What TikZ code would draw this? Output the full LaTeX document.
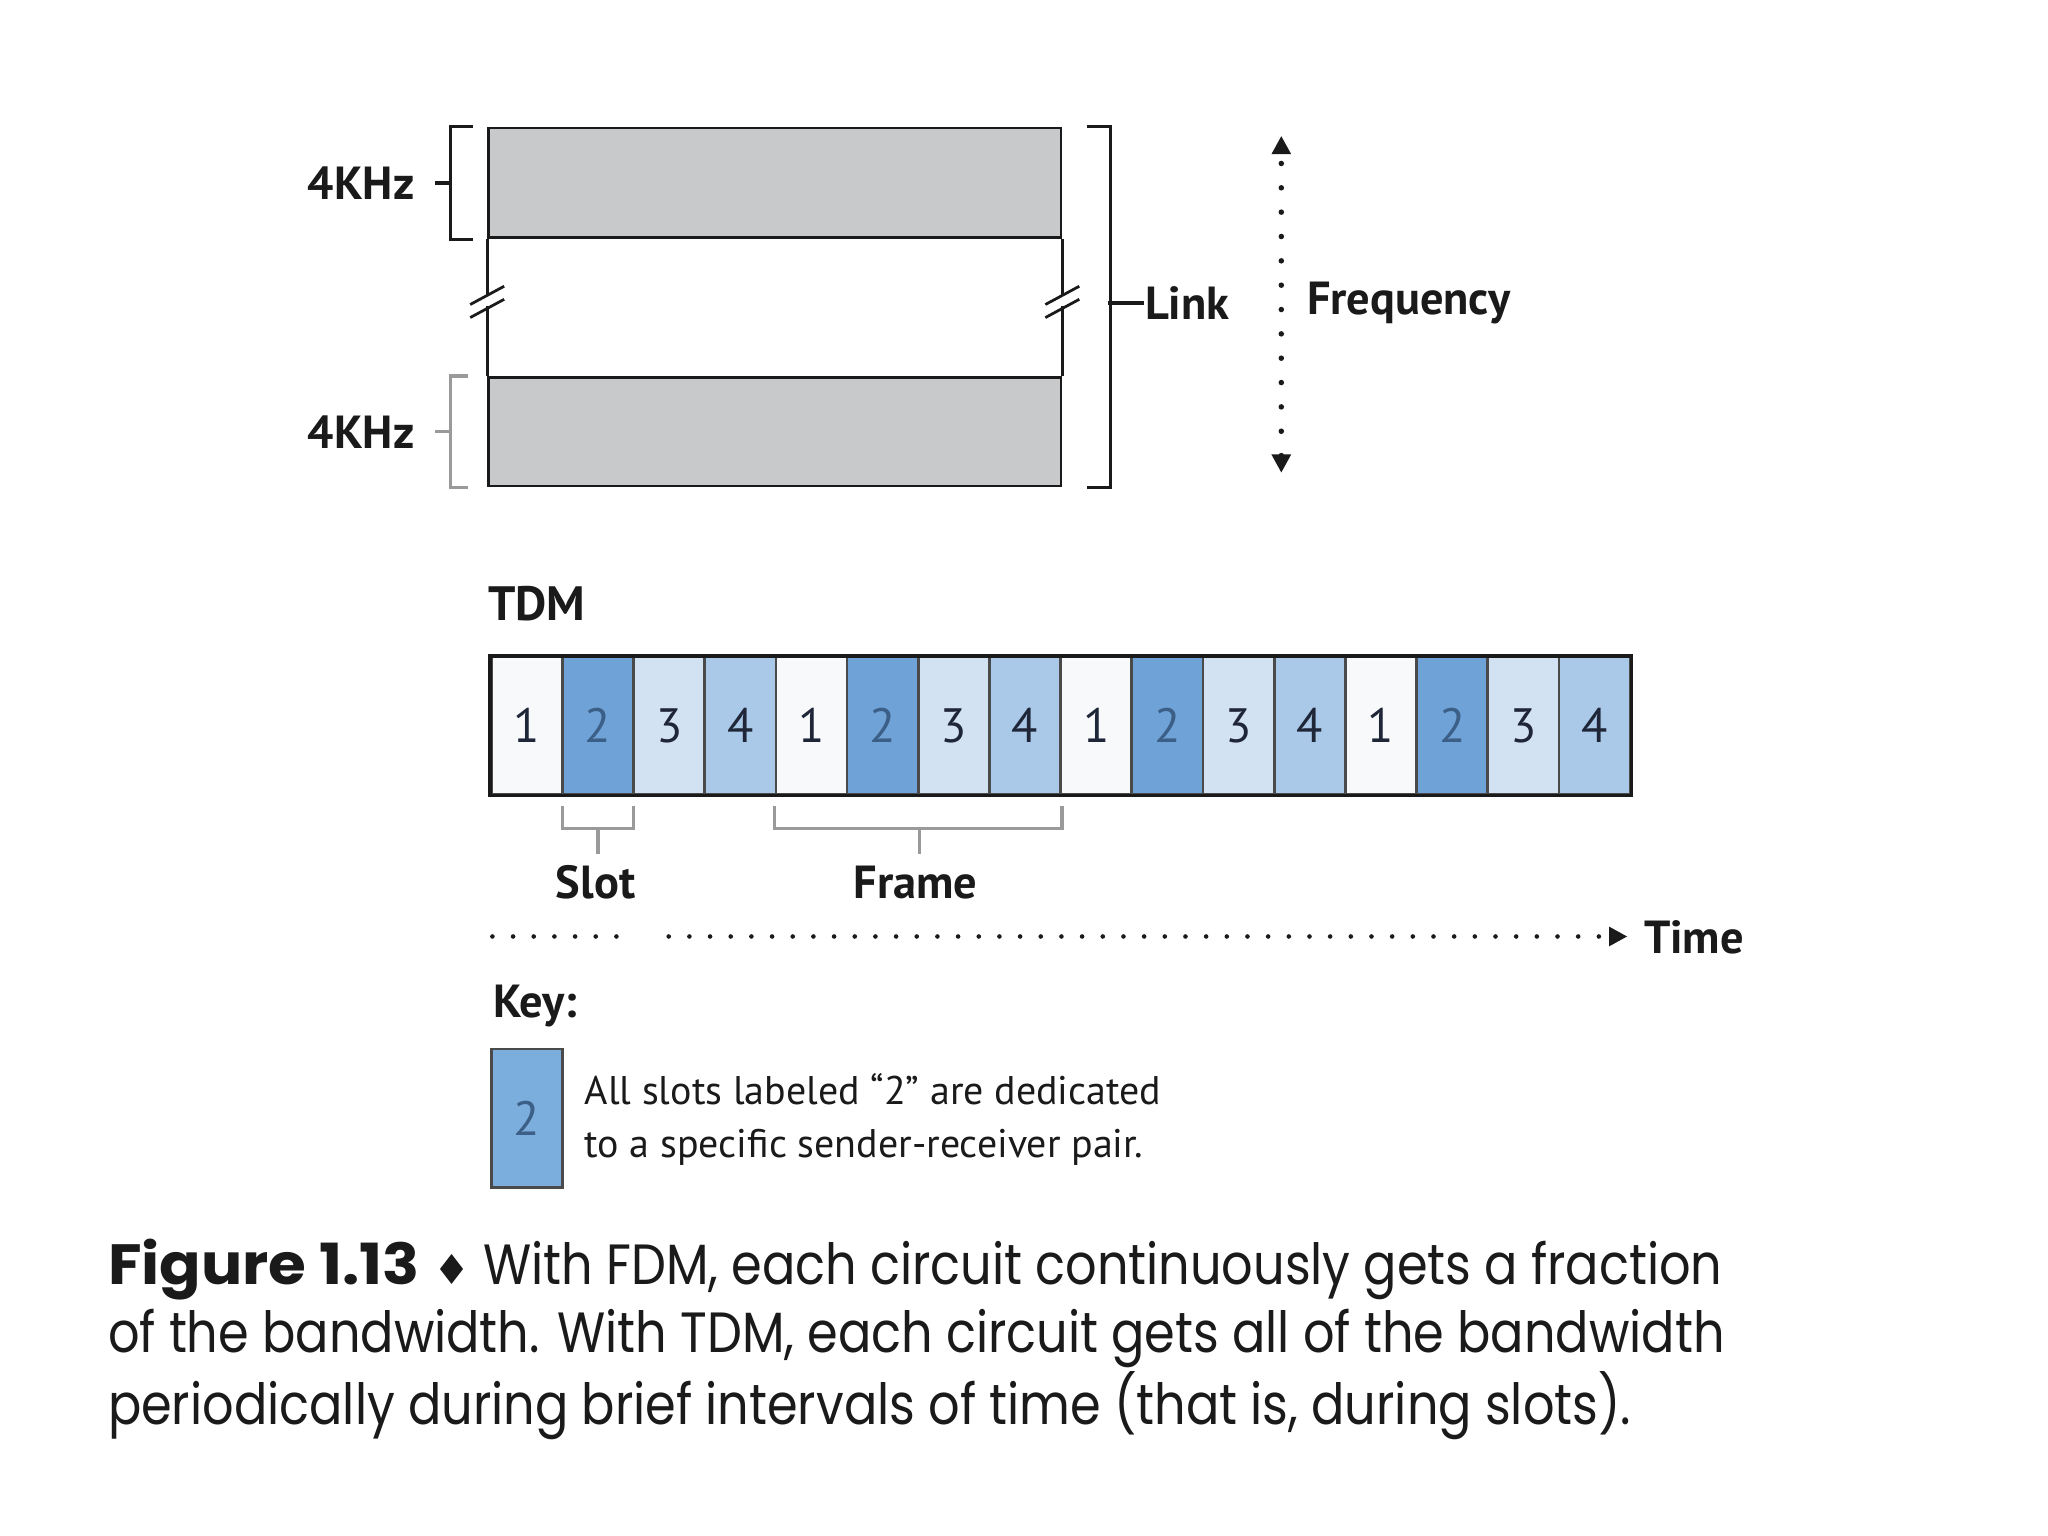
\documentclass[tikz,border=0pt]{standalone}
\usepackage{fontspec}
\setsansfont{PT Sans}
\newfontfamily\capfont[FakeStretch=0.87]{Poppins}
\newfontfamily\capbold[FakeStretch=1.08]{Poppins}
\newfontfamily\symfont{DejaVu Sans}
\usetikzlibrary{arrows.meta, positioning, calc}

\definecolor{ink}{HTML}{1A1A1A}
\definecolor{frame}{HTML}{4A4A4A}
\definecolor{bandgray}{HTML}{C8C9CB}
\definecolor{softgray}{HTML}{9A9A9A}
\definecolor{slotone}{HTML}{F8F9FB}
\definecolor{slottwo}{HTML}{6FA2D6}
\definecolor{slotthree}{HTML}{D2E2F3}
\definecolor{slotfour}{HTML}{AAC9E9}
\definecolor{keyblue}{HTML}{7CAEDD}
\definecolor{digit}{HTML}{1E2638}
\definecolor{digittwo}{HTML}{3B5F86}
\tikzset{
  font=\sffamily,
  tip/.tip={Triangle[length=4pt, width=4pt]},
  %
  band/.style={draw=ink, line width=0.6pt, fill=bandgray, inner sep=0pt,
               minimum width=4.38cm, anchor=north west},
  edge/.style={draw=ink, line width=0.6pt},
  brk/.style={draw=ink, line width=0.75pt},
  brkgray/.style={draw=softgray, line width=0.75pt},
  %
  slotbox/.style={draw=frame, line width=0.6pt, inner sep=0pt,
                  minimum width=0.545cm, minimum height=1.05cm, anchor=north west,
                  text=digit, font=\sffamily\fontsize{10.5}{12}\selectfont},
  chan1/.style={fill=slotone},
  chan2/.style={fill=slottwo, text=digittwo},
  chan3/.style={fill=slotthree},
  chan4/.style={fill=slotfour},
  %
  lbl/.style={font=\sffamily\bfseries\fontsize{10.1}{12}\selectfont, text=ink, inner sep=0pt},
  keytext/.style={font=\sffamily\fontsize{8.7}{11.4}\selectfont, text=ink, inner sep=0pt,
                  align=left},
  capstyle/.style={font=\capfont\fontsize{12.35}{14.75}\selectfont, text=ink, inner sep=0pt,
                   align=left},
  %
  dotarrow/.style={draw=ink, line width=1.2pt, line cap=round, dash pattern=on 0pt off 5.3pt},
  dotline/.style={draw=ink, line width=1.0pt, line cap=round, dash pattern=on 0pt off 4.5pt},
}

\begin{document}
\begin{tikzpicture}[x=0.01cm, y=-0.01cm]
\useasboundingbox (0,0) rectangle (1568,1176);

% =========================================================================
% FDM: two 4KHz bands on one link
% =========================================================================
\node[band, minimum height=0.84cm] (hi) at (373,97) {};
\node[band, minimum height=0.83cm] (lo) at (373,288) {};

% sides of the link, broken in the middle
\foreach \side in {west, east} {
  \draw[edge] (hi.south \side) -- ++(0,43);
  \draw[edge] (lo.north \side) -- ++(0,-54);
  \draw[edge] ($(hi.south \side)+(-13,50)$) -- ++(26,-14);
  \draw[edge] ($(hi.south \side)+(-13,60)$) -- ++(26,-14);
}

% brackets for the bands
\draw[brk] ($(hi.north west)+(-11,0)$) -- ++(-17,0) |- ($(hi.south west)+(-11,0)$);
\draw[brkgray] ($(lo.north west)+(-15,0)$) -- ++(-13,0) |- ($(lo.south west)+(-15,0)$);
\coordinate (bhi) at ($(hi.west)+(-28,0)$);
\coordinate (blo) at ($(lo.west)+(-28,0)$);
\node[lbl, anchor=east] (khzhi) at ($(bhi)+(-27,0)$) {4KHz};
\node[lbl, anchor=east] (khzlo) at ($(blo)+(-27,0)$) {4KHz};
\draw[brk] (bhi) -- ++(-12,0);
\draw[brkgray] (blo) -- ++(-12,0);

% bracket for the whole link
\draw[brk] ($(hi.north east)+(19,0)$) -- ++(18,0) |- ($(lo.south east)+(19,0)$);
\coordinate (blink) at (848,232);
\node[lbl, anchor=west] (link) at (876,232) {Link};
\draw[brk] (blink) -- (link.west);

% frequency axis
\coordinate (ftop) at (981,104);
\coordinate (fbot) at (981,362);
\draw[dotarrow, tip-tip] (fbot) -- (ftop);
\node[lbl, anchor=west] (freq) at (1000,232) {Frequency};

% =========================================================================
% TDM: frames of four slots
% =========================================================================
\node[lbl, font=\sffamily\bfseries\fontsize{10.5}{12}\selectfont, anchor=west] (tdm) at (373,462) {TDM};

\foreach \i [evaluate=\i as \c using {int(mod(\i-1,4)+1)}] in {1,...,16} {
  \node[slotbox, chan\c] (s\i) at ({375+(\i-1)*54.5},502) {\c};
}
\draw[edge, line width=0.8pt] (s1.north west) rectangle (s16.south east);

% slot and frame marks
\draw[brkgray] ($(s2.south west)+(1,8)$) -- ++(0,17) -| ($(s2.south east)+(-1,8)$);
\draw[brkgray] ($(s2.south)+(0,25)$) -- ++(0,20);
\node[lbl, anchor=north] (slot) at (456,662) {Slot};

\draw[brkgray] ($(s5.south west)+(0,8)$) -- ++(0,17) -| ($(s8.south east)+(0,8)$);
\draw[brkgray] ($(s6.south east)+(0,25)$) -- ++(0,20);
\node[lbl, anchor=north] (frm) at (701,662) {Frame};

% time axis
\node[lbl, anchor=west] (time) at (1258,718) {Time};
\coordinate (t0) at (377,717);
\coordinate (t1) at (476,717);
\coordinate (t2) at (512,717);
\draw[dotline] (t0) -- (t1);
\draw[dotline, -tip] (t2) -- ($(time.west)+(-12,-1)$);

% =========================================================================
% key
% =========================================================================
\node[lbl, anchor=west] (key) at (377,770) {Key:};
\node[slotbox, chan2, fill=keyblue, minimum height=1.06cm] (keybox) at (375,802) {2};
\node[keytext, anchor=west] (keynote) at (447,857)
  {All slots labeled “2” are dedicated\\to a specific sender-receiver pair.};

% caption
\node[capstyle, anchor=base west] (cap) at (82,1091)
  {{\capbold\bfseries Figure 1.13} {\symfont\fontsize{9}{9}\selectfont ♦} With FDM, each circuit continuously gets a fraction\\
   of the bandwidth. With TDM, each circuit gets all of the bandwidth\\
   periodically during brief intervals of time (that is, during slots).};

\end{tikzpicture}
\end{document}
